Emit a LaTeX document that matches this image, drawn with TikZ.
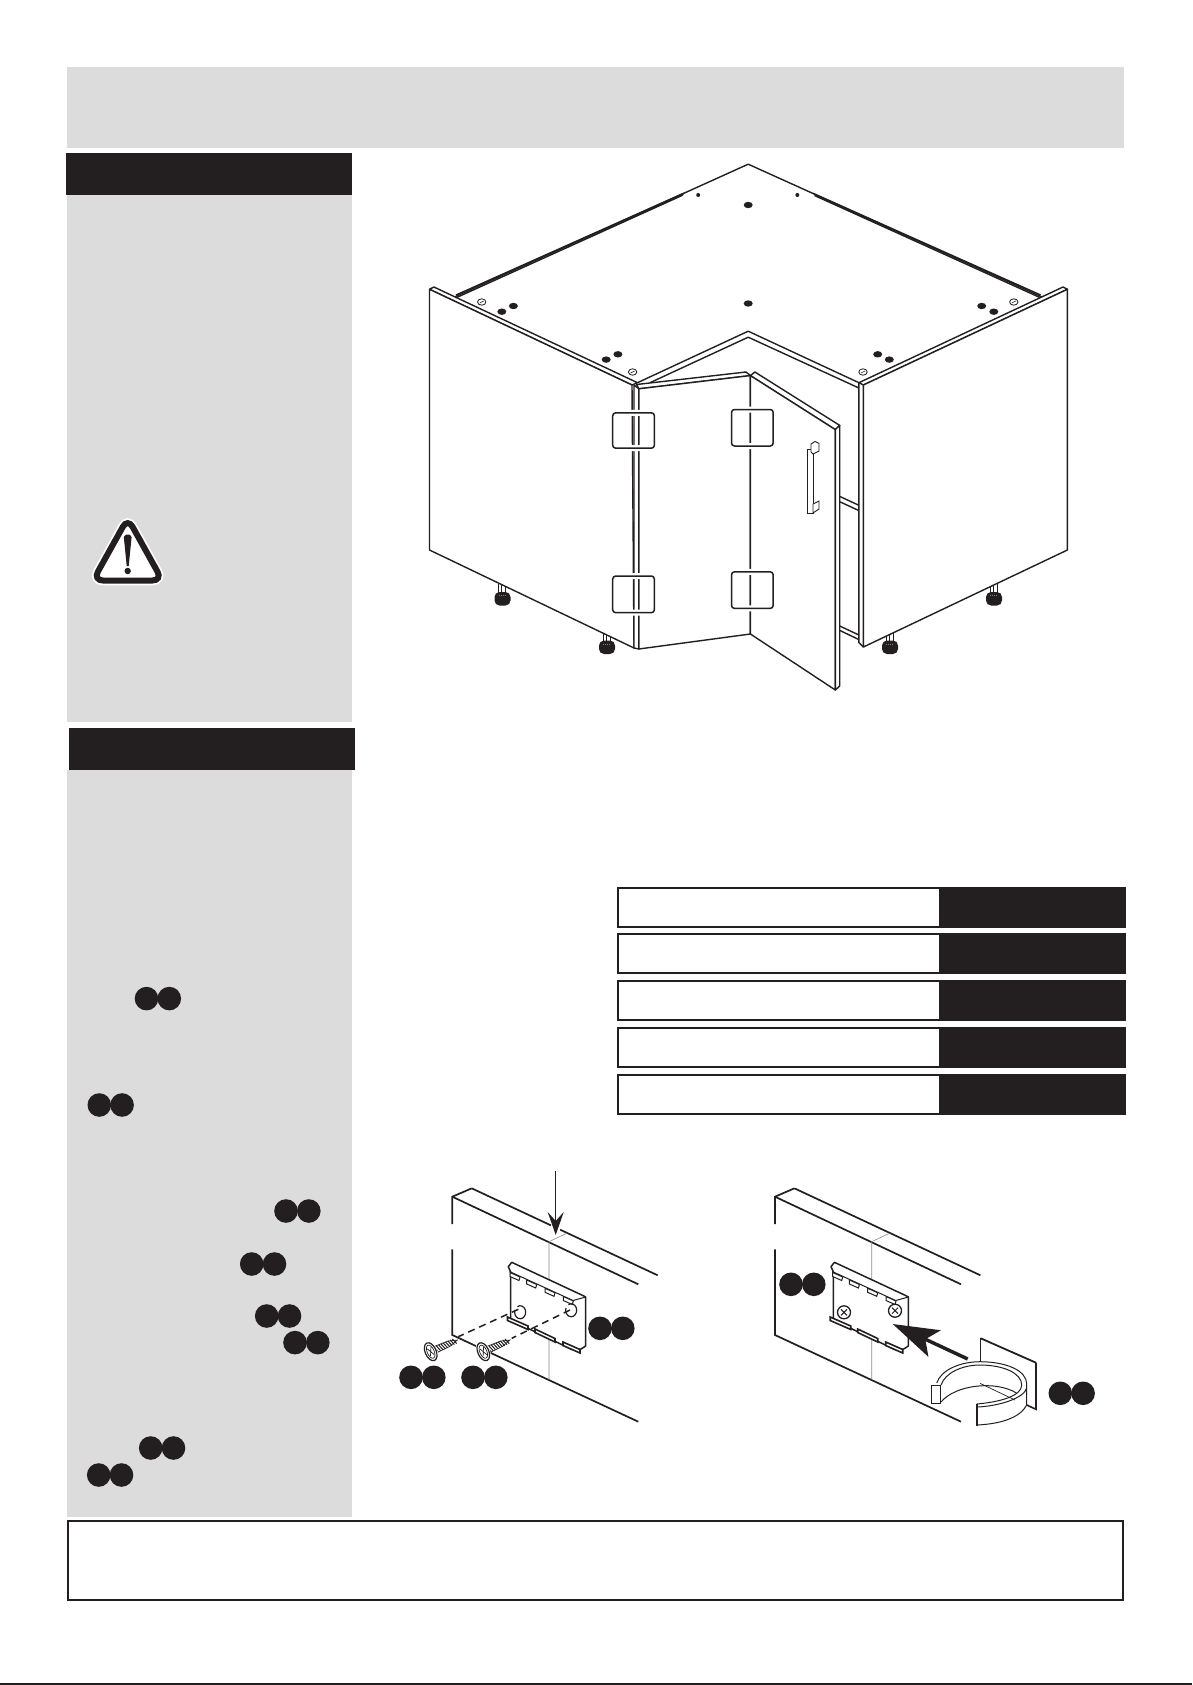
\documentclass[tikz,border=0pt]{standalone}
\usepackage{xcolor}
\usepackage{tikz}
\usetikzlibrary{arrows.meta,positioning}
\definecolor{ink}{HTML}{231F20}
\definecolor{panelgrey}{HTML}{DCDCDC}

% wall piece with its bracket, both detail views
\newcommand{\wallbracket}{%
    \draw[wall] (471.7,1188.3) -- (657.7,1275.3);
    \draw[wall] (452.3,1224) -- (452.3,1196.7) -- (471.7,1188.3);
    \draw[wall] (452.3,1196.7) -- (638.3,1284.3);
    \draw[wall] (452.3,1249.3) -- (452.3,1335) -- (638.3,1421.7);
    \draw[joint] (549,1379.3) -- (549,1241.7) -- (566.7,1233.3);
    \draw[wall, line width=1.5, fill=white, line join=round] (508.3,1266.7) -- (511.7,1262.3) -- (583.3,1295.7) -- (585.7,1297)
        -- (585.7,1346) -- (581,1349) -- (572,1349.5) -- (510.7,1320) -- (510.7,1272) -- cycle;
    \draw[thinline, line width=1] (509.5,1271.5) -- (573,1300.5) -- (585.7,1297);
    \foreach \tx/\ty in {510/1272.5, 526.7/1280, 545/1288.3, 563.3/1296.5} {
        \draw[thinline, line width=1, fill=white] (\tx,\ty) -- (\tx+10,\ty+4.5) -- (\tx+9,\ty+8) -- (\tx,\ty+4) -- cycle;
    }
    \foreach \bx/\by/\ex/\ey in {507.5/1317/528/1326, 535/1329/555/1338.5, 563/1342/580/1349.5} {
        \draw[thinline, line width=1.6, fill=white] (\bx,\by) -- (\ex,\ey) -- (\ex,\ey+3.5) -- (\bx,\by+3.5) -- cycle;
    }
}

% wood screw, head at the origin, tip along x
\newcommand{\woodscrew}[3]{%
    \begin{scope}[shift={(#1,#2)}, rotate=#3]
        \draw[thinline, fill=white] (3,-3.5) -- (20,-2.8) -- (29,0) -- (20,2.8) -- (3,3.5) -- cycle;
        \foreach \t in {5,7.5,...,25} {
            \draw[ink, line width=1] (\t,-3) -- (\t+2,3);
        }
        \draw[white, line width=2.5] (0,0) ellipse (5.5 and 9.5);
        \draw[thinline, line width=1.2, fill=white] (0,0) ellipse (5.5 and 9.5);
        \draw[thinline] (0,0) ellipse (3.5 and 7);
        \draw[thinline] (-2,-4) -- (2,4) (-2,4) -- (2,-4);
    \end{scope}
}

% cabinet foot
\newcommand{\cabfoot}[2]{%
    \begin{scope}[shift={(#1,#2)}]
        \draw[thinline, line width=0.9] (-4,-15) -- (-4,-5) (-1,-15) -- (-1,-5) (3,-15) -- (3,-5);
        \fill[ink, rounded corners=5] (-8,-6.5) rectangle (8,7);
        \draw[black!50, line width=0.6, dash pattern=on 1pt off 1pt] (-4,-3) -- (4,-3);
    \end{scope}
}

\begin{document}
\begin{tikzpicture}[
    x=1pt, y=-1pt,
    greybox/.style={fill=panelgrey, inner sep=0, outer sep=0},
    blackbar/.style={fill=ink, inner sep=0, outer sep=0, minimum width=286, minimum height=42},
    rowbox/.style={draw=ink, line width=2, fill=white, inner sep=0, minimum width=507, minimum height=39},
    rowfill/.style={fill=ink, inner sep=0, minimum width=186.5, minimum height=41},
    badge/.style={circle, fill=ink, inner sep=0, minimum size=23.6},
    hingebox/.style={draw=white, line width=6, rounded corners=3},
    hingeline/.style={draw=ink, line width=1.5, rounded corners=3},
    cab/.style={draw=ink, line width=1.4, line join=round},
    hole/.style={fill=ink},
    camscrew/.style={draw=ink, line width=0.8, fill=white},
    wall/.style={draw=ink, line width=1.7},
    joint/.style={draw=black!45, line width=0.6},
    thinline/.style={draw=ink, line width=0.7},
    dashline/.style={draw=ink, line width=1.5, dash pattern=on 7pt off 5pt},
    downarrow/.style={draw=ink, fill=ink, line width=1.5, -{Stealth[length=23,width=16,inset=9]}},
    bigarrow/.style={draw=ink, fill=ink, line width=3.5, -{Stealth[length=46,width=29,inset=10]}}
]
    \useasboundingbox (0,0) rectangle (1192,1685);
    \fill[ink] (0,1683.3) rectangle (1192,1685);

    % page frame
    \node[greybox, minimum width=1057.5, minimum height=80.5] (header) at (595.5,107.5) {};
    \node[greybox, minimum width=285, minimum height=528] (panelone) at (209.5,458) {};
    \node[greybox, minimum width=285, minimum height=747] (paneltwo) at (209.5,1143) {};
    \node[blackbar, minimum width=286] (barone) at (208.5,174.5) {};
    \node[blackbar] (bartwo) at (212,749) {};
    \node[draw=ink, line width=2, inner sep=0, minimum width=1055, minimum height=79.5] (footbox) at (595.5,1560.5) {};

    % warning sign
    \draw[white, line width=9.5, rounded corners=10] (127.7,518) -- (93,580.5) -- (162.4,580.5) -- cycle;
    \draw[ink, line width=6, fill=white, rounded corners=10] (127.7,518) -- (93,580.5) -- (162.4,580.5) -- cycle;
    \fill[ink] (123.8,537) -- (126,534.5) -- (129.5,534.5) -- (131.6,537) -- (128.7,566) -- (126.7,566) -- cycle;
    \fill[ink] (127.7,571) circle (3.2);

    % table
    \foreach \rowi/\rowy in {1/907.5, 2/953.5, 3/1000.5, 4/1047.5, 5/1094.5} {
        \node[rowbox] (row\rowi) at (871,\rowy) {};
        \node[rowfill, anchor=east] (rowval\rowi) at (row\rowi.east) {};
    }

    % badges in the side panel and the details
    \foreach \nm/\bx/\by in {a/146.5/998.6, b/99.3/1105, c/286/1211, d/251.7/1264, e/266.7/1316, f/295/1342.6, g/150.7/1448, h/98.7/1475,
                             i/600/1328.3, j/411/1377.3, k/473/1377.3, l/791/1284.3, m/1060.3/1393.3} {
        \node[badge] (\nm one) at (\bx,\by) {};
        \node[badge] (\nm two) at (\bx+22.8,\by) {};
    }

    % feet
    \cabfoot{502.5}{598.5}
    \cabfoot{607}{647}
    \cabfoot{890}{647}
    \cabfoot{994}{598.5}

    % carcass top
    \draw[cab] (453.6,297.4) -- (748.2,164.2) -- (1042.9,297.4);
    \draw[cab] (456,295) -- (683.5,193.3) -- (682,195.5) -- (456,297.8);
    \draw[cab] (813,193.3) -- (1040.6,295) (814.5,195.5) -- (1040.5,297.8);
    \draw[cab] (637.5,382.7) -- (748.2,331.2) -- (858.9,382.7);
    \draw[cab] (650,382.7) -- (748.2,337.2) -- (858.9,388);

    \foreach \hx/\hy in {748.2/205, 748.2/303.5, 501.8/311.7, 513.4/306, 606.2/359.6, 617.9/354.3, 877.7/354.3, 889.3/359.6, 981.7/306, 993.8/311.7} {
        \fill[hole] (\hx,\hy) ellipse (4.5 and 3.2);
    }
    \fill[hole] (698.2,195) circle (2) (797.3,195) circle (2);
    \foreach \sx/\sy in {481.7/302, 632.6/372, 863/372, 1013.8/302} {
        \draw[camscrew] (\sx,\sy) ellipse (4.2 and 3.2);
        \draw[thinline, line width=0.6] (\sx-2,\sy+1) -- (\sx+2,\sy-1);
    }

    % side panels
    \draw[cab, fill=white] (429.5,289.3) -- (433.9,287) -- (637.5,382.7) -- (632,385) -- cycle;
    \draw[cab, fill=white] (429.5,289.3) -- (632,385) -- (634,648) -- (429.5,550) -- cycle;
    \draw[cab, fill=white] (1067.4,289.3) -- (1063,287) -- (858.9,382.7) -- (863.4,385) -- cycle;
    \draw[cab, fill=white] (1067.4,289.3) -- (863.4,385) -- (863.4,647) -- (1067.4,550) -- cycle;
    \draw[cab] (858.9,382.7) -- (858.9,642.5) -- (863.4,647);

    % shelves seen past the door
    \draw[cab] (839.7,496.4) -- (858.9,505.3) (839.7,501.7) -- (858.9,510.6);
    \draw[cab] (839.7,626) -- (858.9,635) (839.7,630.4) -- (858.9,639.6);

    % doors
    \draw[cab, fill=white] (636.6,384.5) -- (746,372) -- (750.4,375.6) -- (638.8,388.8) -- cycle;
    \draw[cab, fill=white] (634,385) -- (638.8,388.8) -- (638.8,649) -- (634,648) -- cycle;
    \draw[cab, fill=white] (638.8,388.8) -- (750.4,375.6) -- (750.4,634) -- (638.8,649) -- cycle;
    \draw[cab, fill=white] (750.4,375.6) -- (754.9,372) -- (839.7,425.4) -- (835.3,429.6) -- cycle;
    \draw[cab, fill=white] (750.4,375.6) -- (835.3,429.6) -- (835.3,690) -- (750.4,634) -- cycle;
    \draw[cab, fill=white] (835.3,429.6) -- (839.7,425.4) -- (839.7,686) -- (835.3,690) -- cycle;

    % handle
    \draw[thinline, line width=0.9, fill=white] (807.5,449) rectangle (813,513);
    \draw[thinline, line width=0.9, fill=white] (811,444) -- (815,441.5) -- (819,443.5) -- (819,451) -- (813,454) -- (811,452) -- cycle;
    \draw[thinline, line width=0.9, fill=white] (813,504) -- (819,501) -- (819,509) -- (813,513) -- cycle;

    % hinge frames
    \foreach \hx/\hy/\hb [count=\hi] in {612.7/412.8/448.2, 612.7/576/612.7, 731.5/409.5/446, 731.5/571.8/608.4} {
        \draw[hingebox] (\hx,\hy) rectangle (\hx+41.7,\hb);
        \draw[hingeline] (\hx,\hy) rectangle (\hx+41.7,\hb);
    }

    % left detail
    \wallbracket
    \draw[white, line width=4] (551,1225.5) -- (560,1229.7);
    \draw[thinline, line width=1.2] (515,1310) arc (200:-120:5.5 and 6.5);
    \draw[thinline, line width=1.2] (566,1308) arc (200:-120:5.5 and 6.5);
    \coordinate (holea) at (518.3,1309.3);
    \coordinate (holeb) at (570,1310);
    \coordinate (tipa) at (458.3,1336.7);
    \coordinate (tipb) at (511.7,1338.3);
    \draw[dashline] (holea) -- (tipa);
    \draw[dashline] (holeb) -- (tipb);
    \woodscrew{430.7}{1351.7}{23.7}
    \woodscrew{483.3}{1351.7}{23.7}
    \coordinate (marka) at (555.7,1171);
    \coordinate (markb) at (555.7,1235);
    \draw[downarrow] (marka) -- (markb);

    % right detail
    \begin{scope}[shift={(322.7,0)}]
        \wallbracket
    \end{scope}
    \foreach \sx/\sy in {844/1312.3, 895/1310.7} {
        \draw[thinline, line width=1.3, fill=white] (\sx,\sy) circle (6.5);
        \draw[thinline, line width=1] (\sx-3,\sy-3) -- (\sx+3,\sy+3) (\sx-3,\sy+3) -- (\sx+3,\sy-3);
    }
    \coordinate (pushfrom) at (967.7,1359);
    \coordinate (pushto) at (892.7,1324);
    \draw[bigarrow] (pushfrom) -- (pushto);

    % clip plate and ring
    \draw[wall, line width=1.8] (980.7,1338.3) -- (1036,1362.7);
    \draw[thinline, line width=1] (980.7,1338.3) -- (980.7,1362.3);
    \draw[wall, line width=1.6] (1036,1362.7) -- (1036,1409.3) -- (1026.7,1405);
    \fill[white] (936.7,1383) .. controls (941,1370) and (960,1361.7) .. (980,1361.7)
        .. controls (1005,1361.7) and (1026.7,1370) .. (1026.7,1384) -- (1026.7,1405)
        .. controls (1020,1418) and (1000,1424) .. (976.7,1425) -- (976.7,1404) -- (941,1402) -- cycle;
    \draw[thinline, line width=1] (936.7,1383) .. controls (941,1370) and (960,1361.7) .. (980,1361.7)
        .. controls (1005,1361.7) and (1026.7,1370) .. (1026.7,1384) -- (1026.7,1405)
        .. controls (1020,1418) and (1000,1424) .. (976.7,1425);
    \draw[thinline, line width=1] (941,1385) .. controls (945,1373) and (962,1365) .. (980,1365)
        .. controls (1003,1365) and (1021.7,1373) .. (1021.7,1385)
        .. controls (1021.7,1396) and (1000,1402) .. (976.7,1404);
    \draw[thinline, line width=1] (977,1407) .. controls (1000,1406) and (1024,1398) .. (1026.7,1388);
    \draw[thinline, line width=1] (941,1402) .. controls (955,1385) and (995,1380) .. (1016.5,1393);
    \draw[thinline] (980,1383.3) -- (1015,1400);
    \draw[thinline, line width=1, fill=white] (931.7,1385) rectangle (940,1403.3);
    \draw[wall, line width=1.8] (976.7,1404) -- (976.7,1426);
\end{tikzpicture}
\end{document}
